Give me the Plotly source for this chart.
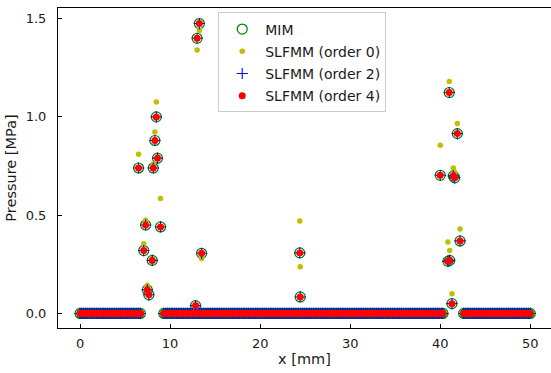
import numpy as np
import plotly.graph_objects as go

# Nodes where the contact pressure is zero (three free stretches of the line)
zero_segments = [(0.0, 6.7, 34), (9.3, 40.3, 156), (42.6, 50.0, 38)]

# Nodes inside the contact zones: position [mm] and pressure [MPa]
contact_x = [6.5, 7.07, 7.28, 7.47, 7.64, 8.02, 8.13, 8.31, 8.47, 8.6, 8.94,
             12.83, 13.0, 13.25, 13.5,
             24.4, 24.45,
             40.0, 40.85, 41.05, 41.0, 41.3, 41.45, 41.6, 41.9, 42.2]
p_mim = [0.74, 0.32, 0.45, 0.12, 0.095, 0.27, 0.74, 0.88, 1.0, 0.79, 0.44,
         0.04, 1.40, 1.475, 0.306,
         0.308, 0.084,
         0.703, 0.265, 0.27, 1.124, 0.05, 0.70, 0.69, 0.915, 0.369]
p_order0 = [0.81, 0.355, 0.474, 0.144, 0.11, 0.28, 0.76, 0.923, 1.076, 0.80, 0.585,
            0.02, 1.34, 1.44, 0.28,
            0.47, 0.237,
            0.856, 0.364, 0.32, 1.18, 0.10, 0.74, 0.72, 0.966, 0.43]
p_order2 = [0.74, 0.32, 0.45, 0.12, 0.095, 0.27, 0.74, 0.88, 1.0, 0.79, 0.44,
            0.04, 1.40, 1.475, 0.306,
            0.308, 0.084,
            0.703, 0.265, 0.27, 1.124, 0.05, 0.70, 0.69, 0.915, 0.369]
p_order4 = [0.74, 0.32, 0.45, 0.12, 0.095, 0.27, 0.74, 0.88, 1.0, 0.79, 0.44,
            0.04, 1.40, 1.475, 0.306,
            0.308, 0.084,
            0.703, 0.265, 0.27, 1.124, 0.05, 0.70, 0.69, 0.915, 0.369]

x_ticks = [0, 10, 20, 30, 40, 50]
y_ticks = [0.0, 0.5, 1.0, 1.5]

zero_x = np.concatenate([np.linspace(a, b, n) for a, b, n in zero_segments])
x_all = np.concatenate([zero_x, contact_x])


def with_zeros(values):
    return np.concatenate([np.zeros(len(zero_x)), values])


FONT = "DejaVu Sans"
TEXT = "#1a1a1a"

fig = go.Figure()
fig.add_trace(go.Scatter(
    x=x_all, y=with_zeros(p_mim), mode="markers", name="MIM", legendgroup="a",
    marker=dict(symbol="circle-open", size=10, color="#008000",
                line=dict(width=1.2, color="#008000"))))
fig.add_trace(go.Scatter(
    x=x_all, y=with_zeros(p_order0), mode="markers", name="SLFMM (order 0)",
    legendgroup="b", marker=dict(symbol="circle", size=5.5, color="#bfbf00")))
fig.add_trace(go.Scatter(
    x=x_all, y=with_zeros(p_order2), mode="markers", name="SLFMM (order 2)",
    legendgroup="c",
    marker=dict(symbol="cross-thin-open", size=8, color="#0000ff",
                line=dict(width=1.1, color="#0000cc"))))
fig.add_trace(go.Scatter(
    x=x_all, y=with_zeros(p_order4), mode="markers", name="SLFMM (order 4)",
    legendgroup="d", marker=dict(symbol="circle", size=7, color="#ff0000")))

axis_common = dict(
    showline=True, mirror=True, linecolor="black", linewidth=1,
    ticks="inside", ticklen=4, tickwidth=1, tickcolor="black",
    showgrid=False, zeroline=False,
    tickfont=dict(family=FONT, size=13, color=TEXT),
)

fig.update_layout(
    width=551, height=373,
    margin=dict(l=58, r=0, t=8, b=45),
    paper_bgcolor="white", plot_bgcolor="white",
    font=dict(family=FONT, size=13, color=TEXT),
    xaxis=dict(range=[-2.45, 52.3], tickvals=x_ticks, ticklabelstandoff=3,
               title=dict(text="x [mm]", font=dict(family=FONT, size=14.5, color=TEXT),
                          standoff=4),
               **axis_common),
    yaxis=dict(range=[-0.074, 1.554], tickvals=y_ticks, tickformat=".1f",
               ticklabelstandoff=8,
               title=dict(text="Pressure [MPa]", font=dict(family=FONT, size=14.5, color=TEXT),
                          standoff=5),
               **axis_common),
    legend=dict(x=0.325, y=0.986, xanchor="left", yanchor="top",
                bgcolor="rgba(255,255,255,0.85)", bordercolor="#cccccc",
                borderwidth=1, tracegroupgap=1, itemwidth=36,
                font=dict(family=FONT, size=14, color=TEXT)),
    showlegend=True,
)

fig.write_html("out.html")
